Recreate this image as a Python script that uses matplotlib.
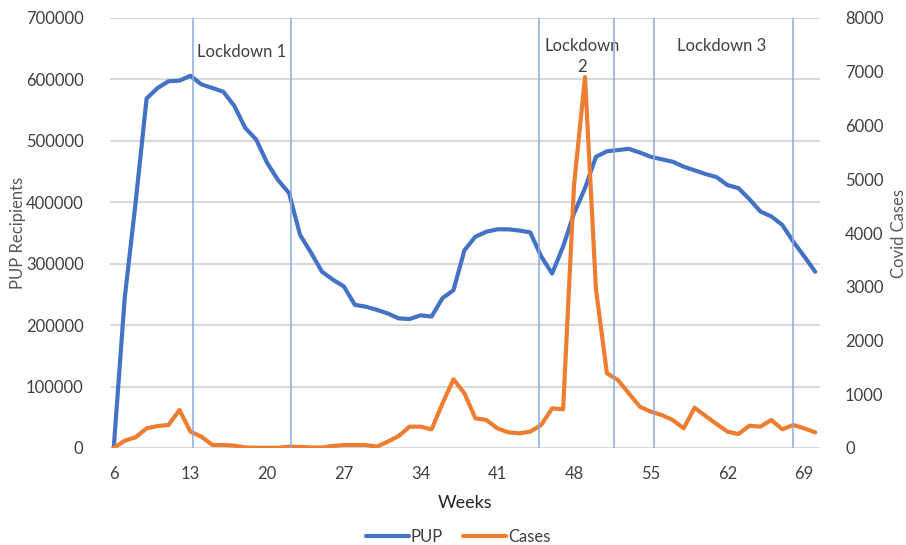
import matplotlib
matplotlib.use("Agg")
import matplotlib.pyplot as plt
import numpy as np

plt.rcParams['font.family'] = ['Lato', 'DejaVu Sans']

weeks = list(range(6, 71))

pup = [0, 244000, 400000, 569000, 586000, 597000, 598000, 606000, 592000, 586000,
       580000, 557000, 521000, 502000, 464000, 436000, 415000, 347000, 318000, 287000,
       274000, 263000, 233000, 230000, 225000, 219000, 211000, 210000, 216000, 214000,
       244000, 257000, 322000, 344000, 352000, 356000, 356000, 354000, 351000, 312000,
       284000, 328000, 382000, 423000, 474000, 483000, 485000, 487000, 481000, 474000,
       470000, 466000, 458000, 452000, 446000, 441000, 428000, 423000, 405000, 385000,
       377000, 363000, 336000, 312000, 287000]

cases = [0, 136, 199, 366, 409, 428, 707, 304, 211, 56,
         56, 43, 10, 5, 5, 5, 25, 20, 10, 10,
         37, 56, 56, 56, 25, 118, 223, 397, 397, 347,
         831, 1278, 1017, 552, 521, 366, 291, 273, 304, 428,
         738, 720, 4900, 6900, 2950, 1390, 1265, 1017, 769, 676,
         614, 521, 366, 750, 595, 447, 304, 260, 415, 397,
         521, 347, 428, 366, 291]

lockdown_lines = [13.25, 22.2, 44.8, 51.6, 55.3, 68.0]
lockdown_labels = ["Lockdown 1", "Lockdown\n2", "Lockdown 3"]
lockdown_label_x = [17.7, 48.7, 61.5]
lockdown_label_y = [7370, 7280, 7480]

x_ticks = list(range(6, 70, 7))

blue = "#4472C4"
orange = "#ED7D31"
grid_c = "#D9D9D9"
text_c = "#404040"
label_c = "#595959"

fig = plt.figure(figsize=(9.06, 5.45), dpi=100)
ax = fig.add_axes([110 / 906, 1 - 448 / 545, 710 / 906, 430 / 545])
ax2 = ax.twinx()

ax.set_xlim(5.66, 70.44)
ax.set_ylim(0, 700000)
ax2.set_ylim(0, 8000)

ax.set_yticks(np.arange(0, 700001, 100000))
ax2.set_yticks(np.arange(0, 8001, 1000))
ax.set_xticks(x_ticks)

ax.yaxis.grid(True, color=grid_c, linewidth=1.5)
ax.set_axisbelow(True)
for a in (ax, ax2):
    for s in a.spines.values():
        s.set_visible(False)
    a.tick_params(length=0, labelsize=12, labelcolor=text_c)
ax.tick_params(axis='y', pad=19)
ax2.tick_params(axis='y', pad=18)
ax.tick_params(axis='x', pad=13)

l1, = ax.plot(weeks, pup, color=blue, linewidth=3.0, solid_joinstyle='round',
              solid_capstyle='round', label="PUP", zorder=3)
l2, = ax2.plot(weeks, cases, color=orange, linewidth=3.0, solid_joinstyle='round',
               solid_capstyle='round', label="Cases", zorder=3)

for xv in lockdown_lines:
    ax2.axvline(xv, color="#8EA9DB", linewidth=1.1, zorder=4)

for lx, ly, lt in zip(lockdown_label_x, lockdown_label_y, lockdown_labels):
    ax2.text(lx, ly, lt, ha='center', va='center', fontsize=12, color=text_c,
             linespacing=1.4)

ax.set_ylabel("PUP Recipients", fontsize=12, color=label_c)
ax.yaxis.set_label_coords(-0.118, 0.5)
ax2.set_ylabel("Covid Cases", fontsize=12, color=label_c, rotation=90)
ax2.yaxis.set_label_coords(1.100, 0.5)
ax.set_xlabel("Weeks", fontsize=13, color="#262626")
ax.xaxis.set_label_coords(0.5, -0.109)

fig.legend(handles=[l1, l2], loc='center', bbox_to_anchor=(458 / 906, 1 - 537 / 545),
           ncol=2, frameon=False, fontsize=12, handlelength=2.6, handletextpad=0.1,
           columnspacing=1.2, labelcolor=text_c)

fig.savefig("out.png", dpi=100, facecolor="white")
